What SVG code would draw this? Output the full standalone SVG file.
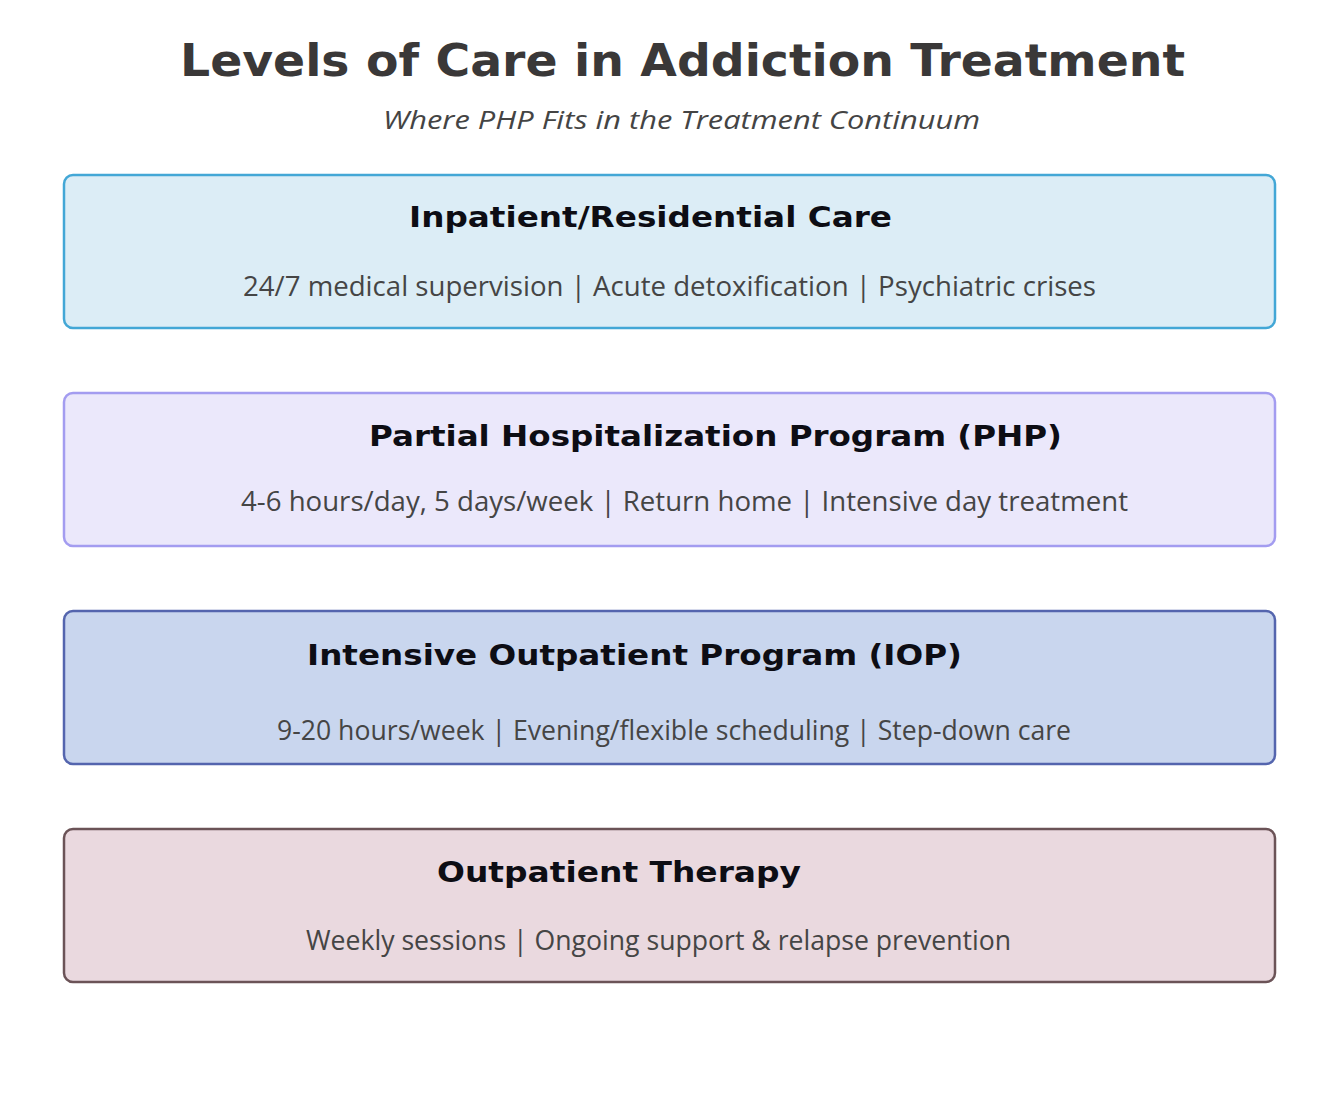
<svg xmlns="http://www.w3.org/2000/svg" width="1339" height="1114" viewBox="0 0 1339 1114">
<style>
.title{font-family:"DejaVu Sans","Liberation Sans",sans-serif;font-weight:bold;font-size:44px;fill:#3a3838;}
.sub{font-family:"Open Sans","Liberation Sans",sans-serif;font-style:italic;font-size:25px;fill:#444;}
.box{stroke-width:2.5;}
.bt{font-family:"DejaVu Sans","Liberation Sans",sans-serif;font-weight:bold;font-size:29px;fill:#0d0d14;}
.bd{font-family:"Open Sans","Liberation Sans",sans-serif;font-size:27px;fill:#454545;}
</style>
<rect width="1339" height="1114" fill="#ffffff"/>
<text class="title" x="180" y="76" textLength="1005" lengthAdjust="spacingAndGlyphs">Levels of Care in Addiction Treatment</text>
<text class="sub" x="383" y="129" textLength="597" lengthAdjust="spacingAndGlyphs">Where PHP Fits in the Treatment Continuum</text>
<g id="inpatient">
<rect class="box" x="64" y="175" width="1211" height="153" rx="9" fill="#dcedf6" stroke="#43a7d6"/>
<text class="bt" x="409" y="227" textLength="483" lengthAdjust="spacingAndGlyphs">Inpatient/Residential Care</text>
<text class="bd" x="243" y="296" textLength="853" lengthAdjust="spacingAndGlyphs">24/7 medical supervision | Acute detoxification | Psychiatric crises</text>
</g>
<g id="php">
<rect class="box" x="64" y="393" width="1211" height="153" rx="9" fill="#ebe8fb" stroke="#a39cf0"/>
<text class="bt" x="369" y="446" textLength="693" lengthAdjust="spacingAndGlyphs">Partial Hospitalization Program (PHP)</text>
<text class="bd" x="241" y="511" textLength="887" lengthAdjust="spacingAndGlyphs">4-6 hours/day, 5 days/week | Return home | Intensive day treatment</text>
</g>
<g id="iop">
<rect class="box" x="64" y="611" width="1211" height="153" rx="9" fill="#c9d6ee" stroke="#5465ae"/>
<text class="bt" x="307" y="665" textLength="655" lengthAdjust="spacingAndGlyphs">Intensive Outpatient Program (IOP)</text>
<text class="bd" x="277" y="740" textLength="794" lengthAdjust="spacingAndGlyphs">9-20 hours/week | Evening/flexible scheduling | Step-down care</text>
</g>
<g id="outpatient">
<rect class="box" x="64" y="829" width="1211" height="153" rx="9" fill="#ead9df" stroke="#6b5357"/>
<text class="bt" x="437" y="882" textLength="364" lengthAdjust="spacingAndGlyphs">Outpatient Therapy</text>
<text class="bd" x="306" y="950" textLength="705" lengthAdjust="spacingAndGlyphs">Weekly sessions | Ongoing support &amp; relapse prevention</text>
</g>
<g id="connectors"></g>
</svg>
